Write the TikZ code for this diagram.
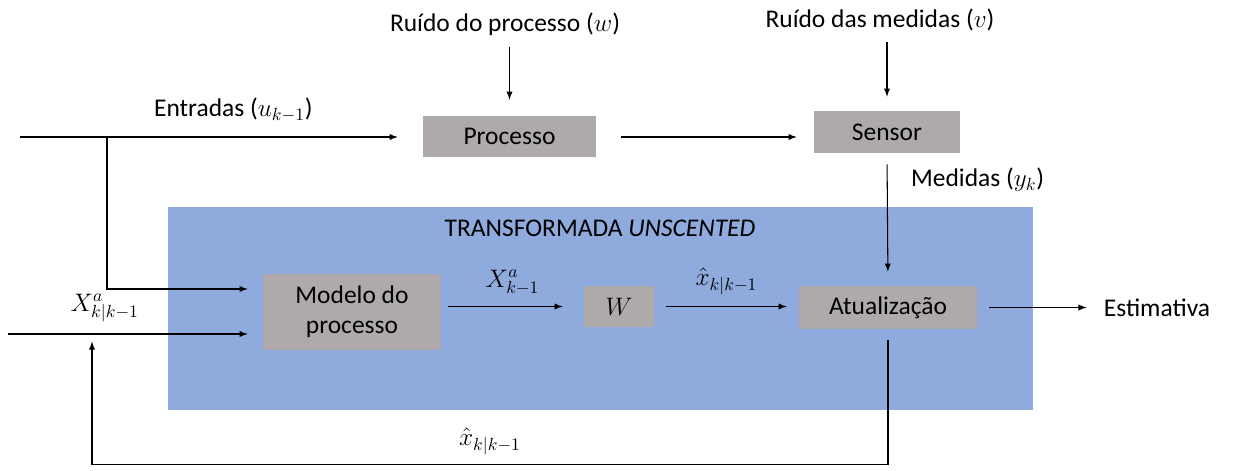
\documentclass[tikz,border=0pt]{standalone}
\usepackage{fontspec}
\setmainfont{Carlito}
\usetikzlibrary{arrows, calc}
\definecolor{ukfblue}{HTML}{8FAADC}
\definecolor{blockgray}{HTML}{AEAAAA}
\tikzstyle{arrow} = [semithick,->,>=latex]
\tikzstyle{block} = [fill=blockgray, align=center, inner sep=0pt]

\begin{document}
\begin{tikzpicture}[every node/.style={font=\fontsize{14.5}{17}\selectfont}]
        \useasboundingbox (0,0) rectangle (24.7,9.4);

        \node at (12.01,3.23) [fill=ukfblue, minimum width=17.3cm, minimum height=4.06cm, inner sep=0pt](ut) {};
        \node at (12.0,4.84) (utlabel) {TRANSFORMADA \textit{UNSCENTED}};

        \node at (10.19,6.67) [block, minimum width=3.46cm, minimum height=0.82cm](proc) {Processo};
        \node at (17.74,6.76) [block, minimum width=2.92cm, minimum height=0.84cm](sensor) {Sensor};
        \node at (7.04,3.16) [block, minimum width=3.56cm, minimum height=1.52cm](modelo) {Modelo do\\processo};
        \node at (12.38,3.27) [block, minimum width=1.4cm, minimum height=0.82cm](w) {$W$};
        \node at (17.76,3.25) [block, minimum width=3.56cm, minimum height=0.86cm](atual) {Atualização};

        \node at (10.1,8.92) (rproc) {Ruído do processo ($w$)};
        \node at (17.6,9.0) (rmed) {Ruído das medidas ($v$)};
        \node at (23.14,3.25) [inner sep=0pt](est) {Estimativa};

        \coordinate (in) at (0.4,6.66);
        \coordinate (br) at (2.14,6.66);
        \coordinate (xin) at (0.16,2.72);
        \coordinate (fb) at (1.84,2.72);

        % entradas e sinais externos
        \draw[arrow, shorten >=0.5cm] (in) -- node[above=5pt, pos=0.53]{Entradas ($u_{k-1}$)} (proc.west |- in);
        \draw[arrow, shorten >=0.3cm] (br) |- ($(modelo.west)+(0,0.46)$);
        \draw[arrow, shorten >=0.3cm] (xin) -- node[above=3pt, pos=0.38]{$X^a_{k|k-1}$} ($(modelo.west)+(0,-0.44)$);
        \draw[arrow, shorten <=0.1cm, shorten >=0.32cm] (proc.north |- rproc.south) -- (proc.north);
        \draw[arrow, shorten <=0.1cm, shorten >=0.28cm] (sensor.north |- rmed.south) -- (sensor.north);
        \draw[arrow, shorten <=0.5cm, shorten >=0.34cm] (proc.east |- in) -- (sensor.west |- in);
        \draw[arrow, shorten <=0.22cm, shorten >=0.28cm] (sensor.south) -- node[right, pos=0.2, xshift=0.35cm]{Medidas ($y_k$)} (atual.north);

        % dentro da transformada
        \draw[arrow, shorten <=0.14cm, shorten >=0.42cm] (modelo.east |- w) -- node[above=3pt]{$X^a_{k-1}$} (w.west);
        \draw[arrow, shorten <=0.24cm, shorten >=0.24cm] (w.east) -- node[above=3pt]{$\hat{x}_{k|k-1}$} (atual.west |- w);
        \draw[arrow, shorten <=0.24cm, shorten >=0.34cm] (atual.east) -- (est.west);

        % realimentacao
        \draw[arrow, shorten <=0.22cm, shorten >=0.15cm] (atual.south) -- ++(0,-2.7) -| node[above=2pt, pos=0.25]{$\hat{x}_{k|k-1}$} (fb);

    \end{tikzpicture}
\end{document}
